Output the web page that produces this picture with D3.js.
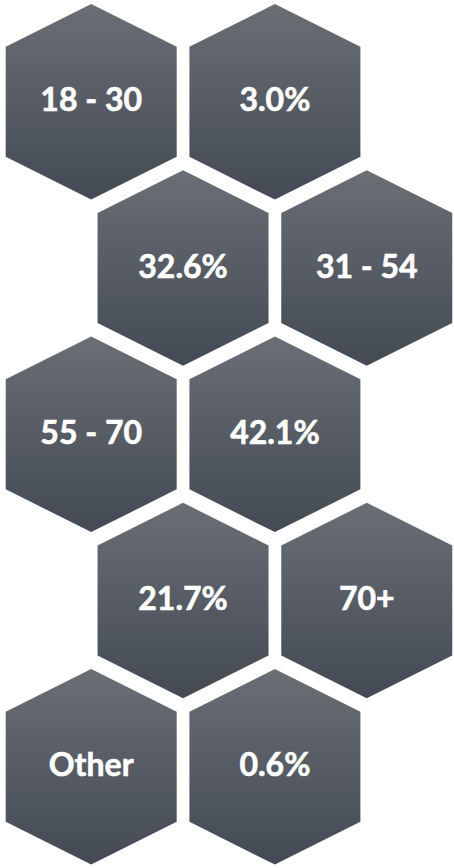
<!DOCTYPE html>
<html>
<head>
<meta charset="utf-8">
<script src="https://cdn.jsdelivr.net/npm/d3@7"></script>
<style>
  html, body { margin: 0; padding: 0; background: #fff; }
  svg { display: block; }
</style>
</head>
<body>
<svg id="hexChart"></svg>
<script>
// labels per hexagon, row by row (left to right)
const ageGroups = ['18 - 30', '31 - 54', '55 - 70', '70+', 'Other'];
const shares = [3.0, 32.6, 42.1, 21.7, 0.6];
// odd rows put the value first, even rows the age group first
const rows = ageGroups.map((g, i) => {
    const pct = shares[i].toFixed(1) + '%';
    return i % 2 === 0 ? [g, pct] : [pct, g];
});

const width = 454;
const height = 868;

const svg = d3.select('#hexChart')
    .attr('width', width)
    .attr('height', height);

const defs = svg.append('defs');
const grad = defs.append('linearGradient')
    .attr('id', 'hexFill')
    .attr('x1', 0).attr('y1', 0)
    .attr('x2', 0).attr('y2', 1);
grad.append('stop').attr('offset', '0%').attr('stop-color', '#6a6e75');
grad.append('stop').attr('offset', '100%').attr('stop-color', '#434a54');

const hexW = 171;
const halfH = 97.8;
const sideHalf = 55;

const yScale = d3.scaleLinear().domain([0, 4]).range([101.8, 766.8]);
const xScale = d3.scaleLinear().domain([0, 2]).range([91.2, 458.6]);

const cells = [];
rows.forEach((row, r) => {
    row.forEach((label, c) => {
        cells.push({ row: r, col: c + (r % 2) * 0.5, label: label });
    });
});

function hexPath(cx, cy) {
    const hw = hexW / 2;
    return d3.line()([
        [cx, cy - halfH],
        [cx + hw, cy - sideHalf],
        [cx + hw, cy + sideHalf],
        [cx, cy + halfH],
        [cx - hw, cy + sideHalf],
        [cx - hw, cy - sideHalf]
    ]) + 'Z';
}

const hex = svg.selectAll('g.hex')
    .data(cells)
    .join('g')
    .attr('class', 'hex');

hex.append('path')
    .attr('d', d => hexPath(xScale(d.col), yScale(d.row)))
    .attr('fill', 'url(#hexFill)');

hex.append('text')
    .attr('x', d => xScale(d.col))
    .attr('y', d => yScale(d.row) + 9.5)
    .attr('text-anchor', 'middle')
    .attr('fill', '#ffffff')
    .style('font-family', 'Lato, "Open Sans", sans-serif')
    .style('font-weight', 'bold')
    .style('font-size', '32px')
    .style('stroke', '#ffffff')
    .style('stroke-width', '0.6px')
    .text(d => d.label);
</script>
</body>
</html>
